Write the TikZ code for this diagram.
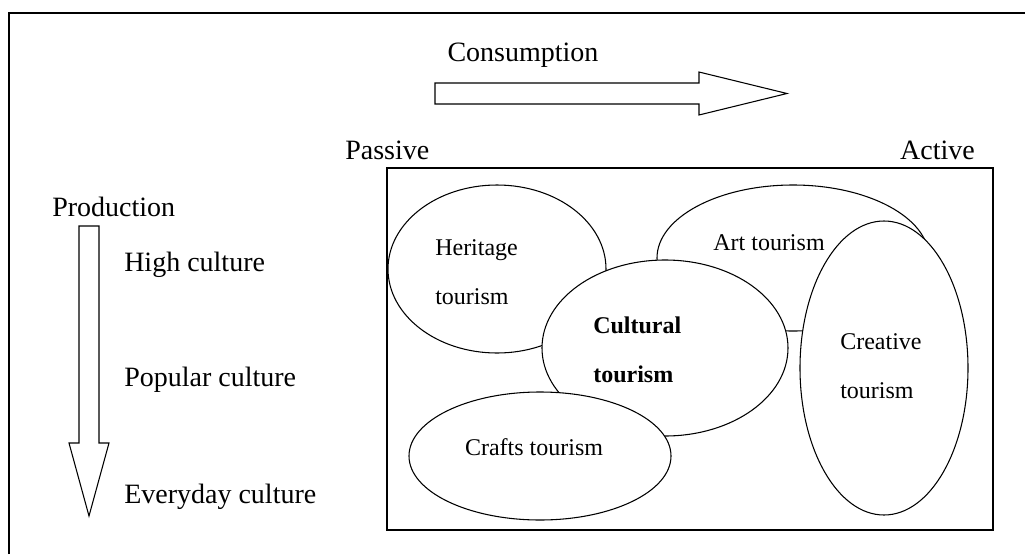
\documentclass[tikz,border=0pt]{standalone}
\usepackage{fontspec}
\setmainfont{Liberation Serif}
\usetikzlibrary{shapes}
\tikzstyle{region} = [ellipse, draw, fill=white, inner sep=0pt, line width=0.8pt]
\tikzstyle{tag} = [inner sep=0pt, font=\fontsize{21}{25}\selectfont]
\tikzstyle{kind} = [inner sep=0pt, align=left, font=\fontsize{18}{37}\selectfont]
\tikzstyle{hollow} = [draw, fill=white, line width=0.8pt, line join=miter]

\begin{document}
\begin{tikzpicture}[x=0.75pt, y=-0.75pt]
    \useasboundingbox (0,0) rectangle (1025,554);
    % Frame
    \draw [line width=0.9pt] (9,554) -- (9,13) -- (1025,13);
    \node [draw, line width=0.8pt, minimum width=454.5pt, minimum height=271.5pt] (field) at (690,349) {};
    % Axes
    \node [tag] (consumption) at (523,55) {Consumption};
    \draw [hollow] (435,83) -- (699,83) -- (699,72) -- (787,93.5) -- (699,115) -- (699,104) -- (435,104) -- cycle;
    \node [tag, anchor=west] (passive) at (345,150) {Passive};
    \node [tag, anchor=east] (active) at (975,150) {Active};
    \node [tag, anchor=west] (production) at (52,207) {Production};
    \draw [hollow] (79,226) -- (99,226) -- (99,443) -- (109,443) -- (89,516) -- (69,443) -- (79,443) -- cycle;
    \node [tag, anchor=west] (high) at (124,265) {High culture};
    \node [tag, anchor=west] (popular) at (124,380) {Popular culture};
    \node [tag, anchor=west] (everyday) at (124,497) {Everyday culture};
    % Place ellipses
    \node [region, minimum width=163.5pt, minimum height=126pt] (heritage) at (497,269) {};
    \node [region, minimum width=204pt, minimum height=109.5pt] (art) at (793,258) {};
    \node [region, minimum width=184.5pt, minimum height=132pt] (cultural) at (665,348) {};
    \node [region, minimum width=126pt, minimum height=220.5pt] (creative) at (884,368) {};
    \node [region, minimum width=196.5pt, minimum height=96pt] (crafts) at (540,456) {};
    % Labels
    \node [kind, anchor=west] (heritagetext) at (435,272) {Heritage\\tourism};
    \node [kind] (arttext) at (769,243) {Art tourism};
    \node [kind, anchor=west, font=\fontsize{18}{37}\selectfont\bfseries] (culturaltext) at (593,350) {Cultural\\tourism};
    \node [kind, anchor=west] (creativetext) at (840,366) {Creative\\tourism};
    \node [kind] (craftstext) at (534,447) {Crafts tourism};
\end{tikzpicture}
\end{document}
